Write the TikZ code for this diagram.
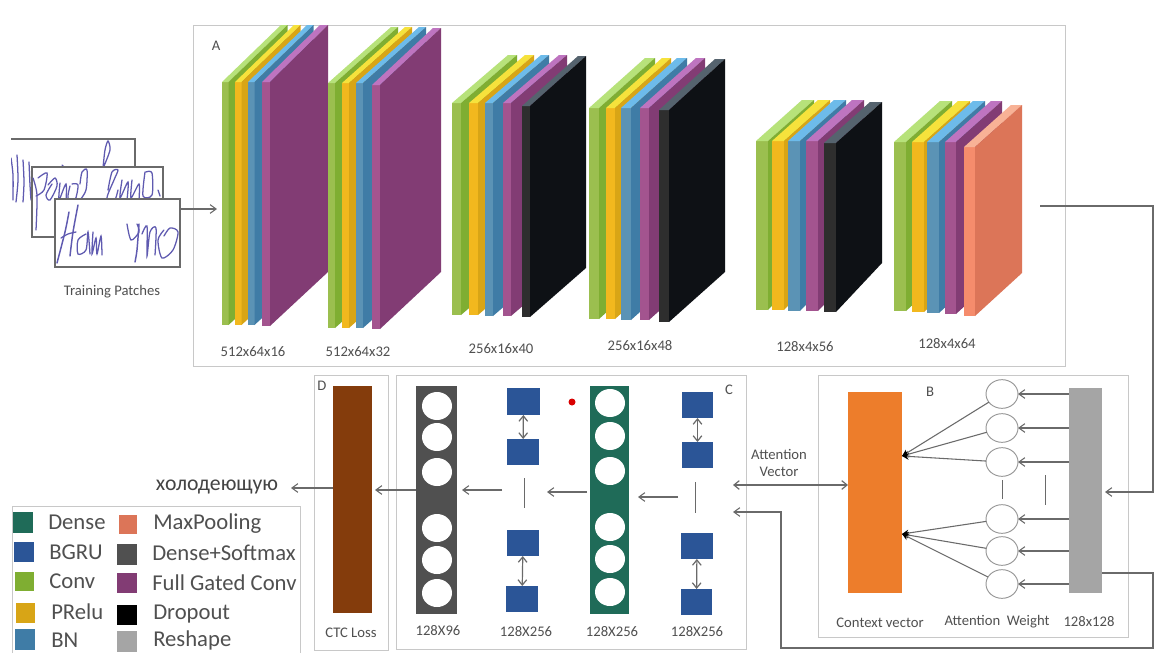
\documentclass[tikz,border=0pt]{standalone}
\usepackage{fontspec}
\setmainfont{Carlito}
\usetikzlibrary{arrows.meta,shapes.geometric}
\definecolor{txt}{HTML}{505050}
\definecolor{ln}{HTML}{6A6A6A}
\definecolor{panel}{HTML}{C8C8C8}
\definecolor{gF}{HTML}{9BBF4F}\definecolor{gS}{HTML}{7FAE32}\definecolor{gT}{HTML}{B7E27A}
\definecolor{yF}{HTML}{F2B81E}\definecolor{yS}{HTML}{D8A516}\definecolor{yT}{HTML}{F6E23C}
\definecolor{bF}{HTML}{5B93B5}\definecolor{bS}{HTML}{3F7CA6}\definecolor{bT}{HTML}{6DBBEA}
\definecolor{pF}{HTML}{A3548F}\definecolor{pS}{HTML}{823C74}\definecolor{pT}{HTML}{BE74C0}
\definecolor{kF}{HTML}{2E2E2E}\definecolor{kS}{HTML}{0E1115}\definecolor{kT}{HTML}{55636E}
\definecolor{oF}{HTML}{F58C6C}\definecolor{oS}{HTML}{DC7558}\definecolor{oT}{HTML}{F8B296}
\definecolor{gruB}{HTML}{2B5597}
\definecolor{denseG}{HTML}{1F6B58}
\definecolor{softG}{HTML}{505050}
\definecolor{ctc}{HTML}{843C0C}
\definecolor{ctx}{HTML}{ED7D2B}
\definecolor{resh}{HTML}{A5A5A5}
\definecolor{ink}{HTML}{5F5AB0}
\tikzset{
  lbl/.style={text=txt,font=\fontsize{11}{12.5}\selectfont,inner sep=0pt},
  lgd/.style={text=txt,font=\fontsize{17}{19}\selectfont,inner sep=0pt,anchor=west},
  panelbox/.style={draw=panel,line width=0.7pt},
  blk/.style={inner sep=0pt,outer sep=0pt,draw=none},
  hole/.style={ellipse,fill=white,inner sep=0pt,outer sep=0pt,minimum width=22.5pt,minimum height=21pt},
  wcirc/.style={ellipse,draw=ln!70,fill=white,line width=0.7pt,inner sep=0pt,outer sep=0pt,minimum width=24pt,minimum height=21.5pt},
  arr/.style={draw=ln,line width=0.8pt,-{Straight Barb[length=4.5pt,width=6.5pt]}},
  dbl/.style={draw=ln,line width=0.9pt,{Straight Barb[length=4pt,width=6.5pt]}-{Straight Barb[length=4pt,width=6.5pt]}},
  bar/.style={draw=ln,line width=0.6pt},
  conv/.style={draw=ink,line width=0.95pt,line cap=round},
  dark/.style={draw=ln,line width=0.8pt,-{Stealth[length=5pt,width=5pt,color=black]}}
}
% \lay{x}{front width}{y top}{y bottom}{dx}{dy top}{dy bottom}{colour family}
\newcommand{\layfin}[7]{%
  \fill[\fF F] (#1,#3) rectangle ({#1+#2},#4);
  \fill[\fF T] (#1,#3) -- ({#1+#2},#3) -- ({#1+#2+#5},{#3+#6}) -- ({#1+#5},{#3+#6}) -- cycle;
  \fill[\fF S] ({#1+#2},#3) -- ({#1+#2+#5},{#3+#6}) -- ({#1+#2+#5},{#4+#7}) -- ({#1+#2},#4) -- cycle;}
\newcommand{\lay}[8]{\def\fF{#8}\layfin{#1}{#2}{#3}{#4}{#5}{#6}{#7}}
% \blkn{name}{x1}{y1}{x2}{y2}{fill}
\newcommand{\blkn}[6]{\node[blk,fill=#6,minimum width={(#4-#2)*0.75pt},minimum height={(#5-#3)*0.75pt}] (#1) at ({(#2+#4)/2},{(#3+#5)/2}) {};}
\begin{document}
\begin{tikzpicture}[x=0.75pt,y=-0.75pt]
\useasboundingbox (0,0) rectangle (1155,653);
\fill[white] (0,0) rectangle (1155,653);

% Panels
\node[panelbox,inner sep=0pt,outer sep=0pt,minimum width={872*0.75pt},minimum height={341*0.75pt}] (panelA) at (629,195.5) {};
\node[panelbox,inner sep=0pt,outer sep=0pt,minimum width={310*0.75pt},minimum height={262*0.75pt}] (panelB) at (973,506) {};
\node[panelbox,inner sep=0pt,outer sep=0pt,minimum width={350*0.75pt},minimum height={274*0.75pt}] (panelC) at (571,512) {};
\node[panelbox,inner sep=0pt,outer sep=0pt,minimum width={74*0.75pt},minimum height={275*0.75pt}] (panelD) at (351,512.5) {};
\node[lbl] (tA) at (216,46) {A};
\node[lbl] (tB) at (930,392) {B};
\node[lbl] (tC) at (729,390) {C};
\node[lbl] (tD) at (322,386) {D};

% Training patches
\draw[ln,line width=0.9pt] (11,139) -- (135,139) -- (135,170);
\begin{scope}
\clip (11,139) rectangle (135,203);
\draw[conv] plot[smooth] coordinates {(11,158) (13,175) (13,200)};
\draw[conv] plot[smooth] coordinates {(17,155) (18,180) (16,202)};
\draw[conv] plot[smooth] coordinates {(23,160) (24,182) (23,202)};
\draw[conv] plot[smooth] coordinates {(29,162) (30,185) (31,200)};
\draw[conv] plot[smooth] coordinates {(103,168) (105,150) (108,141) (110,150) (104,166)};
\draw[conv] (62,165) -- (65,168);
\end{scope}
\node[blk,draw=ln,line width=0.9pt,fill=white,minimum width={131*0.75pt},minimum height={70*0.75pt}] (p2) at (97.5,202) {};
\begin{scope}
\clip (32,167) rectangle (163,237);
\draw[conv] plot[smooth] coordinates {(33,178) (37,195) (36,230)};
\draw[conv] plot[smooth] coordinates {(38,178) (47,173) (44,190) (36,196)};
\draw[conv] plot[smooth] coordinates {(48,185) (55,178) (57,186) (50,200) (46,195) (52,184)};
\draw[conv] plot[smooth] coordinates {(60,183) (59,200) (66,184) (66,205)};
\draw[conv] plot[smooth] coordinates {(70,186) (68,198) (75,200) (78,185) (72,184)};
\draw[conv] plot[smooth] coordinates {(80,184) (82,172) (87,170) (86,190) (80,200)};
\draw[conv] plot[smooth] coordinates {(108,190) (112,172) (118,170) (114,180) (107,198) (114,202) (118,190)};
\draw[conv] plot[smooth] coordinates {(122,180) (120,198) (128,182) (127,200)};
\draw[conv] plot[smooth] coordinates {(132,180) (131,198) (139,184) (139,200)};
\draw[conv] plot[smooth] coordinates {(145,172) (143,196) (152,195) (152,173) (146,172)};
\draw[conv] (158,190) -- (160,196);
\end{scope}
\node[blk,draw=ln,line width=0.9pt,fill=white,minimum width={125*0.75pt},minimum height={68*0.75pt}] (p3) at (117.5,233) {};
\begin{scope}
\clip (55,199) rectangle (180,267);
\draw[conv,line width=1.1pt] plot[smooth] coordinates {(69,212) (65,232) (57,263)};
\draw[conv,line width=1.1pt] plot[smooth] coordinates {(78,205) (73,232) (70,256)};
\draw[conv] plot[smooth] coordinates {(61,238) (68,234) (76,232)};
\draw[conv] plot[smooth] coordinates {(86,234) (78,240) (78,254) (86,250) (88,232) (90,254)};
\draw[conv] plot[smooth] coordinates {(93,232) (92,254) (96,238) (97,254) (101,236) (102,255)};
\draw[conv] plot[smooth] coordinates {(127,224) (131,240) (139,232) (137,224)};
\draw[conv,line width=1.1pt] plot[smooth] coordinates {(139,224) (137,250) (135,262)};
\draw[conv] plot[smooth] coordinates {(142,234) (147,226) (147,256) (150,232) (156,228) (155,255)};
\draw[conv] plot[smooth] coordinates {(164,230) (158,240) (162,258) (173,250) (178,232) (170,228) (164,236)};
\end{scope}
\node[lbl] (tTP) at (112,292) {Training Patches};

% Stack 1
\lay{222}{6.5}{82}{325}{59}{-57}{-54}{g}
\lay{235}{6.5}{82}{325}{59}{-57}{-54}{y}
\lay{248}{6.5}{82}{325}{59}{-57}{-54}{b}
\lay{262}{8}{82}{326}{58}{-57}{-54}{p}
% Stack 2
\lay{328}{7}{83}{328}{63}{-56}{-56}{g}
\lay{342}{7}{83}{328}{63}{-56}{-56}{y}
\lay{356}{7}{83}{328}{63}{-56}{-56}{b}
\lay{372}{8}{85}{329}{61}{-57}{-57}{p}
% Stack 3
\lay{452}{9}{103}{315}{56}{-48}{-48}{g}
\lay{469}{9}{103}{315}{56}{-48}{-48}{y}
\lay{485}{8}{103}{316}{56}{-48}{-48}{b}
\lay{503}{8}{103}{316}{56}{-48}{-48}{p}
\lay{522}{8}{106}{317}{56}{-50}{-49}{k}
% Stack 4
\lay{589}{10}{108}{319}{56}{-50}{-50}{g}
\lay{606}{9}{108}{319}{56}{-50}{-50}{y}
\lay{621}{10}{108}{320}{56}{-50}{-50}{b}
\lay{640}{9}{108}{320}{56}{-50}{-50}{p}
\lay{659}{10}{110}{322}{56}{-51}{-50}{k}
% Stack 5
\lay{756}{12}{141}{310}{46}{-41}{-48}{g}
\lay{772}{12}{141}{310}{46}{-41}{-48}{y}
\lay{788}{12}{141}{311}{46}{-41}{-48}{b}
\lay{806}{12}{141}{311}{46}{-41}{-48}{p}
\lay{824}{12}{143}{312}{46}{-41}{-49}{k}
% Stack 6
\lay{894}{12}{142}{311}{46}{-41}{-42}{g}
\lay{912}{12}{142}{312}{46}{-41}{-42}{y}
\lay{927}{12}{142}{313}{46}{-41}{-42}{b}
\lay{945}{11}{142}{314}{46}{-41}{-42}{p}
\lay{964}{11}{147}{316}{47}{-42}{-43}{o}

\node[lbl] (d1) at (253,352) {512x64x16};
\node[lbl] (d2) at (358,352) {512x64x32};
\node[lbl] (d3) at (501,349) {256x16x40};
\node[lbl] (d4) at (640,346) {256x16x48};
\node[lbl] (d5) at (805,347) {128x4x56};
\node[lbl] (d6) at (947,344) {128x4x64};

\coordinate (s1t) at (217,209);
\draw[arr] (p3.east |- s1t) -- (s1t);

% Panel B
\blkn{orange}{848}{392}{902}{593}{ctx}
\blkn{grey}{1069}{388}{1102}{593}{resh}
\node[wcirc] (c1) at (1002,394) {};
\node[wcirc] (c2) at (1002,428) {};
\node[wcirc] (c3) at (1002,462) {};
\node[wcirc] (c4) at (1002,519) {};
\node[wcirc] (c5) at (1002,551) {};
\node[wcirc] (c6) at (1002,584) {};
\coordinate (oa) at (902,456);
\coordinate (ob) at (902,534);
\foreach \n in {c1,c2,c3}{\draw[dark] (\n) -- (oa);}
\foreach \n in {c4,c5,c6}{\draw[dark] (\n) -- (ob);}
\foreach \n in {c1,c2,c3,c4,c5,c6}{\draw[arr] (grey.west |- \n) -- (\n.east);}
\draw[bar] (1002,480) -- (1002,499);
\draw[bar] (1045,475) -- (1045,505);
\node[lbl] (tCV) at (880,623) {Context vector};
\node[lbl] (tAW) at (997,622) {Attention\ \ Weight};
\node[lbl] (tSz) at (1089,622) {128x128};

% Panel C
\blkn{gs}{416}{386}{457}{614}{softG}
\foreach \n/\y in {1/406,2/437,3/472,4/528,5/560,6/593}{\node[hole] (gh\n) at (437,\y) {};}
\blkn{gd}{590}{386}{629}{614}{denseG}
\foreach \n/\y in {1/403,2/436,3/471,4/527,5/559,6/592}{\node[hole] (dh\n) at (610,\y) {};}
\blkn{ga}{507}{388}{540}{415}{gruB}
\blkn{gb}{507}{439}{539}{465}{gruB}
\blkn{gc}{507}{530}{539}{556}{gruB}
\blkn{ge}{506}{586}{538}{612}{gruB}
\blkn{ha}{682}{392}{713}{418}{gruB}
\blkn{hb}{682}{442}{713}{468}{gruB}
\blkn{hc}{681}{533}{713}{559}{gruB}
\blkn{he}{681}{589}{712}{615}{gruB}
\draw[dbl] (ga) -- (gb);
\draw[dbl] (gc) -- (ge);
\draw[dbl] (ha) -- (hb);
\draw[dbl] (hc) -- (he);
\draw[bar] (524,478) -- (524,508);
\draw[bar] (695,482) -- (695,513);
\fill[red!85!black] (572,402) circle[radius=3.5];
\node[lbl] (t1) at (438,631) {128X96};
\node[lbl] (t2) at (526,632) {128X256};
\node[lbl] (t3) at (612,632) {128X256};
\node[lbl] (t4) at (697,632) {128X256};
\coordinate (a1s) at (502,490);
\coordinate (a1t) at (462,490);
\coordinate (a2s) at (587,492);
\coordinate (a2t) at (547,492);
\coordinate (a3s) at (678,497);
\coordinate (a3t) at (638,497);
\draw[arr] (a3s) -- (a3t);
\draw[arr] (a2s) -- (a2t);
\draw[arr] (a1s) -- (a1t);
% Panel D
\blkn{brown}{333}{386}{372}{613}{ctc}
\node[lbl] (tCTC) at (351,633) {CTC Loss};
\coordinate (a0t) at (375,490);
\draw[arr] (gs.west |- a0t) -- (a0t);
\node[text=txt!85!black,font=\fontsize{16.3}{18}\selectfont,inner sep=0pt] (out) at (217,487) {холодеющую};
\coordinate (outt) at (291,488);
\draw[arr] (brown.west |- outt) -- (outt);

% Attention vector and return lines
\coordinate (avL) at (733,485);
\draw[dbl] (avL) -- (orange.west |- avL);
\node[lbl,align=center] (tAV) at (779,463) {Attention\\Vector};
\coordinate (s6) at (1040,206);
\coordinate (r1) at (1153,206);
\coordinate (r1b) at (1153,492);
\coordinate (r1t) at (1105,492);
\draw[arr] (s6) -- (r1) -- (r1b) -- (r1t);
\coordinate (r2) at (1153,573);
\coordinate (r3) at (1153,648);
\coordinate (r4) at (781,648);
\coordinate (r5) at (781,512);
\coordinate (r6) at (733,512);
\draw[arr] (grey.east |- r2) -- (r2) -- (r3) -- (r4) -- (r5) -- (r6);

% Legend
\draw[panelbox] (12,653) -- (12,506) -- (300,506) -- (300,653);
\foreach \nm/\a/\b/\c/\d/\col in {la/13/512/33/533/denseG,lb/14/542/34/562/gruB,lc/15/572/34/591/gS,ld/16/603/35/623/yS,le/15/629/35/650/bS,lf/119/515/137/534/oS,lg/117/544/137/565/softG,lh/117/573/137/593/pS,li/117/605/137/625/black,lj/117/631/137/652/resh}{\blkn{\nm}{\a}{\b}{\c}{\d}{\col}}
\node[lgd] (l1) at (48,522) {Dense};
\node[lgd] (l2) at (49,552) {BGRU};
\node[lgd] (l3) at (49,581) {Conv};
\node[lgd] (l4) at (51,612) {PRelu};
\node[lgd] (l5) at (51,640) {BN};
\node[lgd] (l6) at (153,524) {MaxPooling};
\node[lgd] (l7) at (152,553) {Dense+Softmax};
\node[lgd] (l8) at (152,583) {Full Gated Conv};
\node[lgd] (l9) at (153,614) {Dropout};
\node[lgd] (l10) at (153,640) {Reshape};
\end{tikzpicture}
\end{document}
